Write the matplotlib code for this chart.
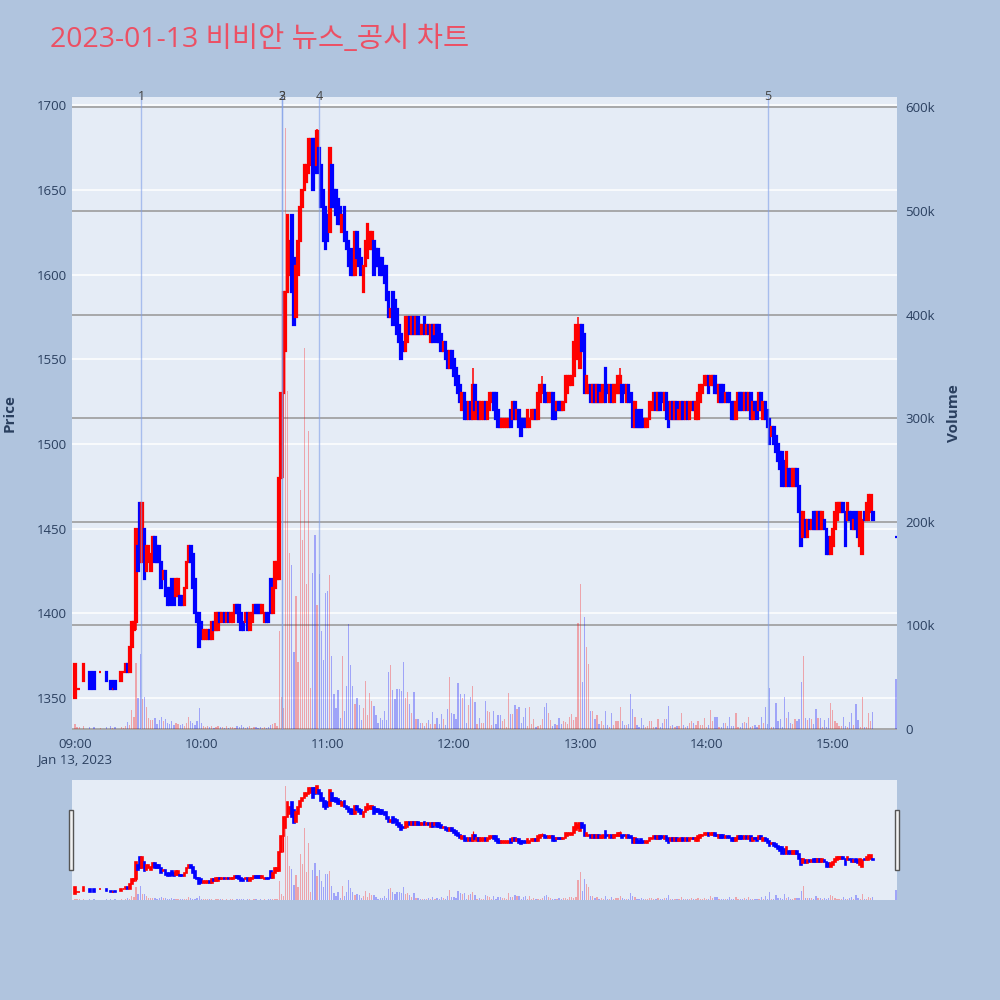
import matplotlib
matplotlib.use("Agg")
import matplotlib.pyplot as plt
import matplotlib.transforms as mtrans
from matplotlib.patches import Rectangle

plt.rcParams['font.family'] = ['Open Sans', 'Noto Sans CJK KR', 'DejaVu Sans']

title = "2023-01-13 비비안 뉴스_공시 차트"

# minute index from 09:00 (0) to 15:30 (390); None = no trade in that minute
opens = [
    1350, 1355, 1355, None, 1360, None, None, 1365, None, 1365,
    None, None, 1365, None, None, 1365, None, 1360, 1355, 1360,
    None, None, 1360, 1365, 1365, 1370, 1365, 1380, 1390, 1395,
    1440, 1465, 1430, 1450, 1425, 1430, 1425, 1435, 1445, 1440,
    1440, 1430, 1420, 1425, 1415, 1415, 1420, 1415, 1410, 1410,
    1410, 1410, 1405, 1415, 1430, 1440, 1435, 1420, 1400, 1400,
    1395, 1385, 1385, 1385, 1390, 1385, 1395, 1390, 1390, 1400,
    1395, 1400, 1395, 1400, 1395, 1395, 1400, 1405, 1405, 1400,
    1395, 1395, 1400, 1390, 1395, 1400, 1405, 1405, 1405, 1400,
    1395, 1400, 1400, 1420, 1400, 1415, 1420, 1420, 1480, 1530,
    1555, 1590, 1600, 1635, 1610, 1575, 1600, 1620, 1640, 1650,
    1655, 1660, 1665, 1680, 1680, 1665, 1675, 1665, 1650, 1640,
    1635, 1625, 1665, 1650, 1650, 1645, 1640, 1625, 1640, 1625,
    1620, 1615, 1610, 1600, 1625, 1615, 1610, 1590, 1605, 1610,
    1615, 1615, 1620, 1615, 1615, 1610, 1610, 1605, 1605, 1590,
    1575, 1590, 1585, 1580, 1570, 1565, 1560, 1555, 1560, 1575,
    1565, 1575, 1565, 1575, 1570, 1565, 1575, 1565, 1570, 1560,
    1570, 1565, 1570, 1570, 1565, 1555, 1560, 1555, 1545, 1555,
    1550, 1545, 1540, 1535, 1520, 1530, 1525, 1515, 1525, 1515,
    1535, 1515, 1525, 1515, 1515, 1525, 1515, 1520, 1525, 1530,
    1530, 1520, 1515, 1510, 1510, 1510, 1510, 1520, 1515, 1525,
    1515, 1520, 1515, 1515, 1515, 1510, 1510, 1515, 1515, 1520,
    1515, 1525, 1530, 1535, 1530, 1525, 1525, 1530, 1525, 1520,
    1525, 1525, 1520, 1525, 1530, 1535, 1535, 1540, 1550, 1555,
    1545, 1570, 1565, 1530, 1530, 1535, 1525, 1535, 1525, 1535,
    1525, 1525, 1545, 1535, 1525, 1535, 1525, 1530, 1530, 1530,
    1535, 1535, 1525, 1535, 1530, 1525, 1510, 1520, 1515, 1520,
    1515, 1510, 1510, 1515, 1520, 1525, 1530, 1520, 1530, 1530,
    1520, 1530, 1525, 1515, 1525, 1515, 1525, 1515, 1515, 1525,
    1515, 1525, 1515, 1520, 1525, 1515, 1515, 1525, 1530, 1535,
    1535, 1540, 1535, 1535, 1540, 1535, 1525, 1535, 1535, 1525,
    1530, 1530, 1525, 1525, 1515, 1520, 1530, 1530, 1520, 1530,
    1520, 1530, 1515, 1525, 1525, 1520, 1530, 1515, 1525, 1520,
    1515, 1505, 1510, 1505, 1500, 1495, 1495, 1490, 1475, 1485,
    1485, 1475, 1475, 1485, 1475, 1460, 1445, 1455, 1445, 1455,
    1450, 1460, 1460, 1450, 1460, 1450, 1455, 1450, 1445, 1435,
    1440, 1450, 1455, 1460, 1460, 1465, 1460, 1455, 1460, 1460,
    1450, 1460, 1455, 1440, 1435, 1460, 1455, 1455, 1460, 1460,
    None, None, None, None, None, None, None, None, None, None,
    1445,
]
closes = [
    1370, 1355, 1355, None, 1370, None, None, 1355, None, 1355,
    None, None, 1365, None, None, 1360, None, 1355, 1355, 1355,
    None, None, 1365, 1365, 1370, 1365, 1380, 1395, 1395, 1450,
    1425, 1430, 1465, 1420, 1440, 1440, 1435, 1445, 1430, 1430,
    1430, 1415, 1425, 1410, 1405, 1405, 1410, 1405, 1420, 1420,
    1405, 1405, 1415, 1430, 1440, 1430, 1415, 1400, 1395, 1380,
    1385, 1390, 1390, 1390, 1385, 1395, 1390, 1400, 1400, 1395,
    1400, 1395, 1400, 1395, 1400, 1400, 1405, 1400, 1395, 1390,
    1390, 1400, 1390, 1400, 1400, 1405, 1400, 1400, 1400, 1405,
    1400, 1395, 1395, 1400, 1415, 1430, 1430, 1480, 1530, 1590,
    1590, 1635, 1620, 1590, 1570, 1605, 1620, 1640, 1650, 1665,
    1665, 1680, 1680, 1650, 1660, 1685, 1660, 1640, 1620, 1615,
    1620, 1675, 1640, 1640, 1635, 1630, 1630, 1635, 1620, 1615,
    1605, 1600, 1600, 1625, 1610, 1605, 1600, 1605, 1620, 1630,
    1625, 1625, 1600, 1605, 1605, 1600, 1600, 1595, 1585, 1575,
    1580, 1570, 1575, 1565, 1560, 1550, 1555, 1575, 1575, 1565,
    1575, 1565, 1575, 1565, 1565, 1570, 1565, 1570, 1565, 1570,
    1560, 1570, 1560, 1560, 1555, 1560, 1550, 1545, 1555, 1545,
    1540, 1535, 1530, 1525, 1530, 1515, 1515, 1525, 1515, 1535,
    1520, 1525, 1515, 1525, 1525, 1515, 1525, 1530, 1530, 1520,
    1515, 1510, 1510, 1515, 1515, 1515, 1515, 1510, 1525, 1515,
    1520, 1510, 1505, 1510, 1510, 1520, 1515, 1520, 1520, 1515,
    1530, 1535, 1535, 1525, 1525, 1530, 1530, 1515, 1515, 1525,
    1520, 1520, 1525, 1540, 1540, 1540, 1540, 1560, 1570, 1565,
    1570, 1555, 1530, 1540, 1535, 1525, 1535, 1525, 1535, 1525,
    1530, 1535, 1525, 1530, 1535, 1525, 1535, 1535, 1540, 1540,
    1525, 1530, 1535, 1525, 1525, 1510, 1525, 1510, 1510, 1510,
    1510, 1515, 1515, 1525, 1525, 1530, 1520, 1530, 1520, 1525,
    1530, 1515, 1510, 1525, 1515, 1525, 1515, 1520, 1525, 1515,
    1525, 1515, 1525, 1525, 1520, 1525, 1530, 1535, 1535, 1540,
    1540, 1530, 1540, 1540, 1530, 1530, 1535, 1525, 1525, 1530,
    1525, 1525, 1515, 1515, 1525, 1530, 1520, 1520, 1530, 1520,
    1530, 1515, 1525, 1520, 1515, 1530, 1520, 1525, 1515, 1510,
    1500, 1510, 1500, 1495, 1490, 1485, 1475, 1475, 1495, 1475,
    1475, 1485, 1485, 1475, 1460, 1440, 1460, 1445, 1455, 1450,
    1455, 1450, 1450, 1460, 1450, 1460, 1450, 1435, 1435, 1445,
    1450, 1460, 1465, 1465, 1465, 1460, 1440, 1465, 1455, 1450,
    1455, 1450, 1445, 1460, 1455, 1455, 1465, 1470, 1470, 1455,
    None, None, None, None, None, None, None, None, None, None,
    1445,
]
wick_lo = {29: 1390, 99: 1480, 137: 1590, 366: 1440, 374: 1435}
wick_hi = {189: 1545, 222: 1540, 239: 1575, 259: 1545, 115: 1686}
# flat candles drawn in the falling colour
flat_down = {390}

# volume per minute, thousands of shares
volumes = [
    5, 2, 2, 0, 3, 0, 0, 2, 0, 2,
    0, 0, 1, 0, 0, 2, 0, 3, 1, 2,
    0, 0, 2, 1, 3, 7, 4, 18, 12, 64,
    30, 72, 29, 31, 21, 11, 9, 9, 11, 5,
    9, 12, 8, 10, 6, 5, 8, 4, 6, 5,
    4, 5, 3, 6, 12, 8, 6, 4, 8, 20,
    6, 3, 2, 3, 2, 3, 1, 2, 3, 2,
    2, 1, 3, 1, 2, 2, 1, 3, 2, 4,
    2, 1, 2, 3, 1, 2, 2, 1, 2, 1,
    2, 1, 2, 4, 5, 6, 3, 95, 31, 20,
    580, 326, 170, 158, 74, 128, 65, 231, 182, 368,
    140, 288, 40, 151, 187, 120, 150, 95, 67, 131,
    133, 149, 70, 34, 20, 38, 11, 70, 17, 41,
    101, 62, 41, 24, 30, 23, 9, 20, 46, 13,
    35, 27, 22, 13, 6, 11, 9, 17, 9, 55,
    62, 38, 29, 39, 39, 37, 65, 30, 36, 24,
    15, 36, 10, 10, 6, 6, 3, 6, 9, 5,
    16, 5, 11, 5, 14, 10, 4, 19, 50, 15,
    14, 10, 44, 34, 30, 34, 6, 23, 31, 41,
    26, 5, 11, 6, 6, 27, 17, 16, 4, 17,
    5, 13, 13, 8, 10, 2, 35, 14, 14, 23,
    19, 21, 6, 12, 20, 3, 21, 5, 10, 2,
    3, 4, 10, 21, 25, 15, 9, 3, 5, 4,
    11, 5, 8, 7, 5, 12, 14, 9, 12, 102,
    140, 45, 108, 79, 63, 17, 17, 10, 13, 5,
    8, 4, 17, 4, 2, 15, 4, 8, 8, 21,
    8, 4, 4, 5, 34, 19, 12, 4, 2, 11,
    4, 2, 3, 8, 8, 2, 2, 10, 2, 6,
    10, 10, 22, 3, 4, 2, 3, 3, 15, 4,
    2, 3, 6, 8, 6, 4, 8, 4, 4, 11,
    2, 4, 18, 8, 12, 12, 2, 2, 6, 6,
    3, 12, 3, 3, 15, 2, 2, 6, 7, 6,
    12, 2, 3, 4, 2, 4, 12, 6, 21, 5,
    40, 2, 2, 25, 8, 10, 2, 31, 11, 16,
    6, 5, 10, 8, 10, 45, 70, 11, 9, 11,
    10, 5, 19, 11, 11, 2, 9, 2, 11, 25,
    18, 8, 6, 3, 3, 12, 3, 2, 7, 15,
    4, 24, 9, 2, 31, 2, 2, 15, 8, 16,
    0, 0, 0, 0, 0, 0, 0, 0, 0, 0,
    48,
]

time_ticks = [0, 60, 120, 180, 240, 300, 360]
time_labels = ["09:00\nJan 13, 2023", "10:00", "11:00", "12:00", "13:00", "14:00", "15:00"]
price_ticks = [1350, 1400, 1450, 1500, 1550, 1600, 1650, 1700]
volume_ticks = [0, 100, 200, 300, 400, 500, 600]
volume_labels = ["0", "100k", "200k", "300k", "400k", "500k", "600k"]
event_minutes = [31.4, 98.3, 98.4, 115.9, 329.2]
event_labels = ["1", "2", "3", "4", "5"]

UP, DOWN = "#ff0000", "#0000ff"
BG, PLOT_BG = "#b0c4de", "#e5ecf6"
TXT = "#2a3f5f"
XLIM = (-1.4, 390.5)
PLIM = (1331, 1705)
VLIM = (-1, 610)


def colour(m):
    o, c = opens[m], closes[m]
    if c > o or (c == o and m not in flat_down):
        return UP
    return DOWN


def draw_volume(ax, width):
    xs, hs, cs = [], [], []
    for m, v in enumerate(volumes):
        if v <= 0 or opens[m] is None:
            continue
        xs.append(m)
        hs.append(v)
        cs.append(colour(m))
    ax.bar(xs, hs, width=width, color=cs, alpha=0.3, linewidth=0, zorder=2)


def draw_candles(ax, width, lw):
    for m, (o, c) in enumerate(zip(opens, closes)):
        if o is None:
            continue
        col = colour(m)
        lo = wick_lo.get(m, min(o, c))
        hi = wick_hi.get(m, max(o, c))
        if hi > max(o, c) or lo < min(o, c):
            ax.vlines(m, lo, hi, color=col, linewidth=lw * 0.7, zorder=3)
        ax.bar(m, abs(c - o), bottom=min(o, c), width=width, color=col,
               edgecolor=col, linewidth=lw, zorder=4)


fig = plt.figure(figsize=(10, 10), dpi=100)
fig.patch.set_facecolor(BG)

rect = [0.072, 0.270, 0.825, 0.633]

# background axis with price grid (left ticks)
axg = fig.add_axes(rect)
axg.set_facecolor(PLOT_BG)
axg.set_xlim(*XLIM)
axg.set_ylim(*PLIM)
axg.set_yticks(price_ticks)
axg.set_xticks(time_ticks)
axg.set_xticklabels(time_labels)
axg.grid(axis="y", color="white", linewidth=1.1)
axg.tick_params(length=0, labelsize=9.5, labelcolor=TXT)
axg.tick_params(axis="x", pad=6)
for s in axg.spines.values():
    s.set_visible(False)
for lab in axg.get_xticklabels():
    lab.set_multialignment("center")

# volume axis (right ticks)
axv = axg.twinx()
axv.set_xlim(*XLIM)
axv.set_ylim(*VLIM)
axv.set_yticks(volume_ticks)
axv.set_yticklabels(volume_labels)
axv.grid(axis="y", color="#9c9c9c", linewidth=1.2)
axv.set_axisbelow(True)
axv.tick_params(length=0, labelsize=9.5, labelcolor=TXT, pad=6)
for s in axv.spines.values():
    s.set_visible(False)
draw_volume(axv, 0.6)

# candles on top
axp = fig.add_axes(rect, sharex=axg)
axp.patch.set_visible(False)
axp.set_ylim(*PLIM)
axp.axis("off")
draw_candles(axp, 0.8, 1.6)

trans = mtrans.blended_transform_factory(axp.transData, axp.transAxes)
for m, lab in zip(event_minutes, event_labels):
    axp.axvline(m, color="#7f9ee8", linewidth=1.0, alpha=0.6, zorder=6)
    axp.text(m, 1.0, lab, transform=trans, ha="center", va="center",
             fontsize=9, color="#444444", zorder=7)

fig.text(0.05, 0.96, title, ha="left", va="center", fontsize=20.5,
         color="#ec5064", family=["Open Sans", "Noto Sans CJK KR"])
fig.text(0.010, 0.587, "Price", rotation=90, ha="center", va="center",
         fontsize=11, fontweight="bold", color=TXT)
fig.text(0.954, 0.587, "Volume", rotation=90, ha="center", va="center",
         fontsize=11, fontweight="bold", color=TXT)

# range slider
srect = [0.072, 0.100, 0.825, 0.120]
axs = fig.add_axes(srect)
axs.set_facecolor(PLOT_BG)
axs.set_xlim(*XLIM)
axs.set_ylim(*VLIM)
axs.axis("off")
axs.add_patch(Rectangle((0, 0), 1, 1, transform=axs.transAxes, facecolor=PLOT_BG,
                        edgecolor="none", zorder=0))
draw_volume(axs, 0.6)
axs2 = fig.add_axes(srect, sharex=axs)
axs2.patch.set_visible(False)
axs2.set_ylim(*PLIM)
axs2.axis("off")
draw_candles(axs2, 0.8, 1.2)

for hx in (0.0685, 0.8945):
    fig.patches.append(Rectangle((hx, 0.130), 0.0045, 0.060, transform=fig.transFigure,
                                 facecolor="#f2f2f2", edgecolor="#555555", linewidth=1.0))

fig.savefig("out.png", dpi=100, facecolor=BG)
